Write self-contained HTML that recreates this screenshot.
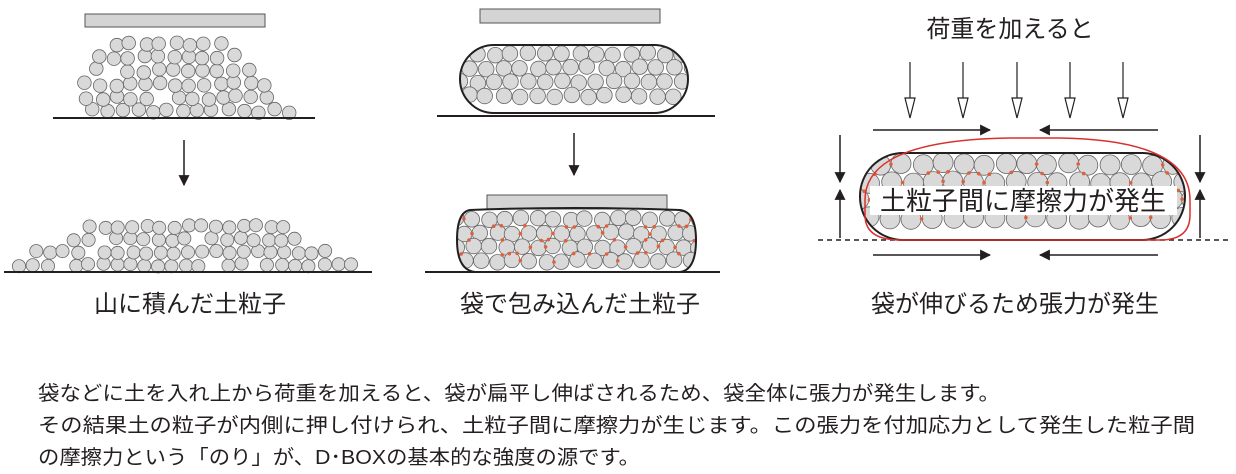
<!DOCTYPE html>
<html><head><meta charset="utf-8">
<style>
html,body{margin:0;padding:0;background:#fff;}
svg{display:block;}
text{font-family:"Liberation Sans","Noto Sans CJK JP",sans-serif;fill:#231f20;}
</style></head>
<body>
<svg id="s" width="1236" height="474" viewBox="0 0 1236 474" xmlns="http://www.w3.org/2000/svg">
<defs>
<marker id="ah" viewBox="0 0 10 10" refX="9" refY="5" markerWidth="11" markerHeight="11" orient="auto" markerUnits="userSpaceOnUse"><path d="M0,0 L10,5 L0,10 z" fill="#231f20"/></marker>
<clipPath id="bag1"><rect x="460" y="45" width="228" height="68" rx="34"/></clipPath>
<clipPath id="bag2"><path d="M470,210 Q572,206 680,210 Q696,212 696,240 Q696,270 680,272 L475,272 Q457,270 457,240 Q457,212 470,210 z"/></clipPath>
<clipPath id="bag3"><rect x="860" y="153" width="325" height="87" rx="43"/></clipPath>
</defs>
<g id="g1"></g>
<rect x="85" y="14" width="180" height="13" fill="#d4d4d4" stroke="#555" stroke-width="1"/>
<line x1="53" y1="118" x2="315" y2="118" stroke="#231f20" stroke-width="2"/>
<line x1="184" y1="140" x2="184" y2="185" stroke="#231f20" stroke-width="1.5" marker-end="url(#ah)"/>
<line x1="4" y1="272" x2="372" y2="272" stroke="#231f20" stroke-width="2"/>
<text x="190" y="312" font-size="24" text-anchor="middle">山に積んだ土粒子</text>
<rect x="480" y="9" width="180" height="14" fill="#d4d4d4" stroke="#555" stroke-width="1"/>
<line x1="437" y1="116" x2="715" y2="116" stroke="#231f20" stroke-width="2"/>
<line x1="574" y1="133" x2="574" y2="175" stroke="#231f20" stroke-width="1.5" marker-end="url(#ah)"/>
<rect x="487" y="195" width="180" height="14" fill="#d4d4d4" stroke="#555" stroke-width="1"/>
<line x1="425" y1="272" x2="720" y2="272" stroke="#231f20" stroke-width="2"/>
<text x="580" y="312" font-size="24" text-anchor="middle">袋で包み込んだ土粒子</text>
<text x="1010" y="37" font-size="24" text-anchor="middle">荷重を加えると</text>
<g id="down" stroke="#231f20" stroke-width="1.2" fill="#fff"></g>
<g stroke="#231f20" stroke-width="1.5">
<line x1="873" y1="130" x2="990" y2="130" marker-end="url(#ah)"/>
<line x1="1158" y1="130" x2="1040" y2="130" marker-end="url(#ah)"/>
<line x1="873" y1="255" x2="990" y2="255" marker-end="url(#ah)"/>
<line x1="1158" y1="255" x2="1040" y2="255" marker-end="url(#ah)"/>
<line x1="840" y1="135" x2="840" y2="182" marker-end="url(#ah)"/>
<line x1="840" y1="238" x2="840" y2="190" marker-end="url(#ah)"/>
<line x1="1200" y1="135" x2="1200" y2="182" marker-end="url(#ah)"/>
<line x1="1200" y1="238" x2="1200" y2="190" marker-end="url(#ah)"/>
</g>
<line x1="818" y1="240" x2="1228" y2="240" stroke="#231f20" stroke-width="1.5" stroke-dasharray="5,4"/>
<g id="g3"></g>
<rect x="870" y="186" width="307" height="29" fill="#fff"/>
<text x="1023" y="210" font-size="26" text-anchor="middle">土粒子間に摩擦力が発生</text>
<text x="1015" y="312" font-size="24" text-anchor="middle">袋が伸びるため張力が発生</text>
<text x="38" y="400" font-size="20" textLength="962" lengthAdjust="spacingAndGlyphs">袋などに土を入れ上から荷重を加えると、袋が扁平し伸ばされるため、袋全体に張力が発生します。</text>
<text x="38" y="432" font-size="20" textLength="1157" lengthAdjust="spacingAndGlyphs">その結果土の粒子が内側に押し付けられ、土粒子間に摩擦力が生じます。この張力を付加応力として発生した粒子間</text>
<text x="38" y="464" font-size="20" textLength="602" lengthAdjust="spacingAndGlyphs">の摩擦力という「のり」が、D･BOXの基本的な強度の源です。</text>
</svg>
<script>
(function(){
var NS="http://www.w3.org/2000/svg";
var seed=11;function rnd(){seed=(seed*16807)%2147483647;return seed/2147483647;}
function el(p,n,a){var e=document.createElementNS(NS,n);for(var k in a)e.setAttribute(k,a[k]);p.appendChild(e);return e;}
var s=document.getElementById('s');
var g1=document.getElementById('g1');
function circ(p,x,y,r){el(p,'circle',{cx:x.toFixed(1),cy:y.toFixed(1),r:r,fill:'#d9d9d9',stroke:'#666','stroke-width':0.8});}
for(var row=0;row<6;row++){
 var y=111-row*13.5; var t=row/5;
 var xl=78+Math.pow(t,1.6)*30, xr=288-Math.pow(t,1.3)*60;
 for(var x=xl+(row%2)*7;x<=xr;x+=15){
  if(rnd()<0.05)continue;
  circ(g1,x+(rnd()-0.5)*4,y+(rnd()-0.5)*4,6.8);
 }
}
var rows2=[[20,362],[30,338],[75,305],[85,292]];
for(var row=0;row<4;row++){
 var y=265-row*12.8;
 var xl=rows2[row][0],xr=rows2[row][1];
 for(var x=xl+(row%2)*6;x<=xr;x+=13.8){
  if(rnd()<0.06)continue;
  circ(g1,x+(rnd()-0.5)*3,y+(rnd()-0.5)*3,6.6);
 }
}
function bag(clip,x0,x1,y0,y1,r,dots,sp){
 var g=el(s,'g',{'clip-path':'url(#'+clip+')'});
 var pts=[];
 var dy=r*1.8,dx=r*2+sp;
 var row=0;
 for(var y=y0+r+1;y<=y1-r+3;y+=dy,row++){
  for(var x=x0+(row%2)*dx/2;x<=x1+r;x+=dx){
   var px=x+(rnd()-0.5)*3,py=y+(rnd()-0.5)*3;
   pts.push([px,py]);circ(g,px,py,r);
  }
 }
 if(dots){
  for(var i=0;i<pts.length;i++)for(var j=i+1;j<pts.length;j++){
   var a=pts[i],b=pts[j],d=Math.hypot(a[0]-b[0],a[1]-b[1]);
   if(d<2*r+2&&rnd()<0.35)el(g,'circle',{cx:((a[0]+b[0])/2).toFixed(1),cy:((a[1]+b[1])/2).toFixed(1),r:1.8,fill:'#e0603a'});
  }
 }
 return g;
}
bag('bag1',460,688,45,113,7.8,false,1.5);
el(s,'rect',{x:460,y:45,width:228,height:68,rx:34,fill:'none',stroke:'#231f20','stroke-width':2});
bag('bag2',457,696,210,272,7.8,true,0.5);
el(s,'path',{d:'M470,210 Q572,206 680,210 Q696,212 696,240 Q696,270 680,272 L475,272 Q457,270 457,240 Q457,212 470,210 z',fill:'none',stroke:'#231f20','stroke-width':2});
var g3=document.getElementById('g3');
var gb=bag('bag3',860,1185,153,240,10,true,0.8);
g3.appendChild(gb);
el(g3,'rect',{x:860,y:153,width:325,height:87,rx:43,fill:'none',stroke:'#231f20','stroke-width':2});
el(g3,'path',{d:'M865,200 Q865,140 1010,138 L1060,138 Q1190,140 1190,200 L1190,215 Q1190,240 1160,240 L900,240 Q865,240 865,215 z',fill:'none',stroke:'#d9302c','stroke-width':1.5});
var dn=document.getElementById('down');
[910,963,1017,1070,1123].forEach(function(x){
 el(dn,'line',{x1:x,y1:62,x2:x,y2:100});
 el(dn,'path',{d:'M'+(x-5)+',98 L'+(x+5)+',98 L'+x+',118 z'});
});
})();
</script>
</body></html>
